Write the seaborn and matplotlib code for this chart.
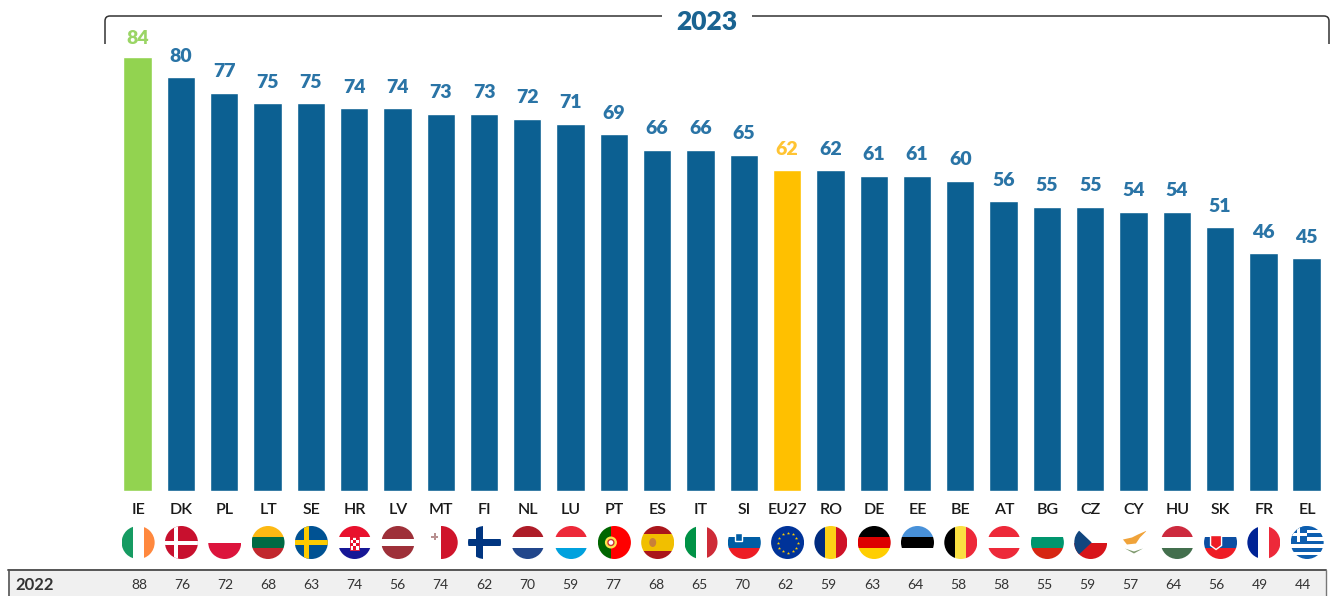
import numpy as np
import pandas as pd
import matplotlib
matplotlib.use("Agg")
import matplotlib.pyplot as plt
from matplotlib.patches import Circle, Rectangle, Polygon, Ellipse, PathPatch
from matplotlib.path import Path
import seaborn as sns

categories = ["IE","DK","PL","LT","SE","HR","LV","MT","FI","NL","LU","PT","ES","IT","SI","EU27","RO","DE","EE","BE","AT","BG","CZ","CY","HU","SK","FR","EL"]
values_2023 = [84,80,77,75,75,74,74,73,73,72,71,69,66,66,65,62,62,61,61,60,56,55,55,54,54,51,46,45]
values_2022 = [88,76,72,68,63,74,56,74,62,70,59,77,68,65,70,62,59,63,64,58,58,55,59,57,64,56,49,44]
series_title = "2023"
row_title = "2022"

BLUE, GREEN, GOLD = "#0c6092", "#92d350", "#ffc000"
LABEL_BLUE = "#2a74a6"
palette = {c: BLUE for c in categories}
palette["IE"] = GREEN
palette["EU27"] = GOLD
label_colors = {c: LABEL_BLUE for c in categories}
label_colors["IE"] = "#9ad565"
label_colors["EU27"] = "#ffc433"

sns.set_theme(style="white")
plt.rcParams["font.family"] = ["Lato", "DejaVu Sans"]

fig = plt.figure(figsize=(13.3, 5.96), dpi=100)
W, H = 1330, 596
y0, px_per_unit = 491, 5.17
ymax = 95
L, R = 116.0, 1328.3
ax = fig.add_axes([L / W, (H - y0) / H, (R - L) / W, ymax * px_per_unit / H])
df = pd.DataFrame({"country": categories, "value": values_2023})
sns.barplot(data=df, x="country", y="value", hue="country", palette=palette,
            order=categories, hue_order=categories, width=0.655, saturation=1,
            legend=False, dodge=False, ax=ax)
ax.set_xlim(-0.5, len(categories) - 0.5)
ax.set_ylim(0, ymax)
ax.axis("off")
for i, (c, v) in enumerate(zip(categories, values_2023)):
    off = 18 if c == "IE" else 21
    ax.annotate(str(v), (i, v), xytext=(0, off * 0.72), textcoords="offset points",
                ha="center", va="center", fontsize=14, fontweight="heavy",
                color=label_colors[c])

ov = fig.add_axes([0, 0, 1, 1], zorder=-1)
ov.set_xlim(0, W)
ov.set_ylim(H, 0)
ov.axis("off")
ov.patch.set_alpha(0)

# bracket with title
for verts in ([(105, 44), (105, 16), (662, 16)], [(752, 16), (1329, 16), (1329, 44)]):
    a, b, c = verts
    if a[1] > b[1]:
        pts = [a, (b[0], 21), b, (b[0] + 5, 16), c]
    else:
        pts = [a, (b[0] - 5, 16), b, (b[0], 21), c]
    codes = [Path.MOVETO, Path.LINETO, Path.CURVE3, Path.CURVE3, Path.LINETO]
    ov.add_patch(PathPatch(Path(pts, codes), fill=False, edgecolor="#333333", lw=1.1))
ov.text(706.5, 22, series_title, ha="center", va="center", fontsize=19,
        fontweight="heavy", color="#1a6391")

# 2022 row
ov.add_patch(Rectangle((8, 570), 1318, 30, facecolor="#f0f0f0", edgecolor="none"))
ov.plot([8, 1326], [569.5, 569.5], color="#555555", lw=1.4)
ov.plot([8.5, 8.5], [569.5, 596], color="#555555", lw=1.2)
ov.plot([1325.5, 1325.5], [569.5, 596], color="#777777", lw=1.0)
ov.text(15, 585, row_title, ha="left", va="center", fontsize=12, fontweight="bold", color="#333333")
table_x = np.linspace(139, 1303, len(categories))
for x, v in zip(table_x, values_2022):
    ov.text(x, 585, str(v), ha="center", va="center", fontsize=10, color="#333333")

# flags
R_F = 16.5
def hstripes(cx, cy, cols, clip, weights=None):
    w = weights or [1] * len(cols)
    tot = sum(w); y = cy - R_F
    for col, k in zip(cols, w):
        h = 2 * R_F * k / tot
        r = Rectangle((cx - R_F, y), 2 * R_F, h, facecolor=col, edgecolor="none", zorder=2)
        ov.add_patch(r); r.set_clip_path(clip); y += h

def vstripes(cx, cy, cols, clip, weights=None):
    w = weights or [1] * len(cols)
    tot = sum(w); x = cx - R_F
    for col, k in zip(cols, w):
        d = 2 * R_F * k / tot
        r = Rectangle((x, cy - R_F), d, 2 * R_F, facecolor=col, edgecolor="none", zorder=2)
        ov.add_patch(r); r.set_clip_path(clip); x += d

def cross(cx, cy, bg, fg, clip, t=6, dx=-5):
    hstripes(cx, cy, [bg], clip)
    for rect in (Rectangle((cx - R_F, cy - t / 2), 2 * R_F, t), Rectangle((cx + dx - t / 2, cy - R_F), t, 2 * R_F)):
        rect.set(facecolor=fg, edgecolor="none", zorder=3)
        ov.add_patch(rect); rect.set_clip_path(clip)

def extra(patch, clip, z=4):
    patch.set_zorder(z)
    ov.add_patch(patch)
    patch.set_clip_path(clip)

H3 = {
    "PL": ["#ffffff", "#dc143c"], "LT": ["#fdb913", "#006a44", "#c1272d"],
    "NL": ["#ae1c28", "#ffffff", "#21468b"], "LU": ["#ed2939", "#ffffff", "#00a1de"],
    "DE": ["#000000", "#dd0000", "#ffce00"], "EE": ["#4891d9", "#000000", "#ffffff"],
    "AT": ["#ed2939", "#ffffff", "#ed2939"], "BG": ["#ffffff", "#00966e", "#d62612"],
    "HU": ["#cd2a3e", "#ffffff", "#436f4d"], "HR": ["#e8112d", "#ffffff", "#171796"],
    "SI": ["#ffffff", "#005da4", "#ed1c24"], "SK": ["#ffffff", "#0b4ea2", "#ee1c25"],
}
V3 = {
    "IE": ["#169b62", "#ffffff", "#ff883e"], "IT": ["#009246", "#ffffff", "#ce2b37"],
    "RO": ["#002b7f", "#fcd116", "#ce1126"], "BE": ["#000000", "#fae042", "#ed2939"],
    "FR": ["#002395", "#ffffff", "#ed2939"],
}
cy = 542.5
for i, c in enumerate(categories):
    cx = ax.transData.transform((i, 0))[0] + 0.5
    clip = Circle((cx, cy), R_F, transform=ov.transData)
    if c in H3:
        hstripes(cx, cy, H3[c], clip)
    elif c in V3:
        vstripes(cx, cy, V3[c], clip)
    elif c == "LV":
        hstripes(cx, cy, ["#9e3039", "#ffffff", "#9e3039"], clip, [2, 1, 2])
    elif c == "DK":
        cross(cx, cy, "#c8102e", "#ffffff", clip, t=4)
    elif c == "SE":
        cross(cx, cy, "#005293", "#fecb00", clip, t=5)
    elif c == "FI":
        cross(cx, cy, "#ffffff", "#003580", clip, t=7)
    elif c == "MT":
        vstripes(cx, cy, ["#ffffff", "#cf142b"], clip)
        extra(Rectangle((cx - 10, cy - 7), 7, 2.4, facecolor="#b89090", edgecolor="none"), clip)
        extra(Rectangle((cx - 7.7, cy - 9.3), 2.4, 7, facecolor="#b89090", edgecolor="none"), clip)
    elif c == "PT":
        vstripes(cx, cy, ["#006600", "#ff0000"], clip, [2, 3])
        extra(Circle((cx - 3.5, cy), 6, facecolor="#ffe34d", edgecolor="none"), clip)
        extra(Circle((cx - 3.5, cy), 3, facecolor="#ffffff", edgecolor="#cc3333", lw=1), clip, 5)
    elif c == "ES":
        hstripes(cx, cy, ["#aa151b", "#f1bf00", "#aa151b"], clip, [1, 2, 1])
        extra(Ellipse((cx - 5, cy), 7, 9, facecolor="#c9803a", edgecolor="none"), clip)
    elif c == "EU27":
        hstripes(cx, cy, ["#003399"], clip)
        ang = np.linspace(0, 2 * np.pi, 12, endpoint=False)
        ov.scatter(cx + 10 * np.cos(ang), cy + 10 * np.sin(ang), s=6, marker="*", color="#ffcc00", linewidths=0, zorder=4)
    elif c == "CZ":
        hstripes(cx, cy, ["#ffffff", "#d7141a"], clip)
        extra(Polygon([(cx - R_F, cy - R_F), (cx + 1, cy), (cx - R_F, cy + R_F)], facecolor="#11457e", edgecolor="none"), clip)
    elif c == "CY":
        hstripes(cx, cy, ["#ffffff"], clip)
        extra(Polygon([(cx - 11, cy - 3), (cx - 2, cy - 5), (cx + 4, cy - 8), (cx + 13, cy - 12), (cx + 6, cy - 5), (cx + 2, cy + 1), (cx - 7, cy + 2)], facecolor="#f0a33a", edgecolor="none"), clip)
        extra(Polygon([(cx - 9, cy + 6), (cx, cy + 11), (cx + 9, cy + 6), (cx, cy + 9)], facecolor="#7f9a6e", edgecolor="none"), clip)
    elif c == "EL":
        hstripes(cx, cy, ["#0d5eaf", "#ffffff"] * 4 + ["#0d5eaf"], clip)
        extra(Rectangle((cx - R_F, cy - R_F), 16, 16, facecolor="#0d5eaf", edgecolor="none"), clip)
        extra(Rectangle((cx - R_F, cy - R_F + 6.5), 16, 3, facecolor="#ffffff", edgecolor="none"), clip, 5)
        extra(Rectangle((cx - R_F + 6.5, cy - R_F), 3, 16, facecolor="#ffffff", edgecolor="none"), clip, 5)
    if c == "HR":
        extra(Rectangle((cx - 4.5, cy - 6), 9, 13, facecolor="#ffffff", edgecolor="#e8112d", lw=0.6), clip)
        for a in range(4):
            for b in range(3):
                if (a + b) % 2 == 0:
                    extra(Rectangle((cx - 4.5 + 3 * b, cy - 6 + 3.25 * a), 3, 3.25, facecolor="#e8112d", edgecolor="none"), clip, 5)
    if c == "SI":
        extra(Rectangle((cx - 9, cy - 10), 7, 8, facecolor="#005da4", edgecolor="#ffffff", lw=1), clip)
    if c == "SK":
        extra(Polygon([(cx - 10, cy - 7), (cx + 1, cy - 7), (cx + 1, cy + 3), (cx - 4.5, cy + 7), (cx - 10, cy + 3)], facecolor="#ee1c25", edgecolor="#ffffff", lw=1), clip)
    ov.text(cx, 510, c, ha="center", va="center", fontsize=11.5, fontweight="semibold", color="#1a1a1a")

fig.savefig("out.png", dpi=100)
